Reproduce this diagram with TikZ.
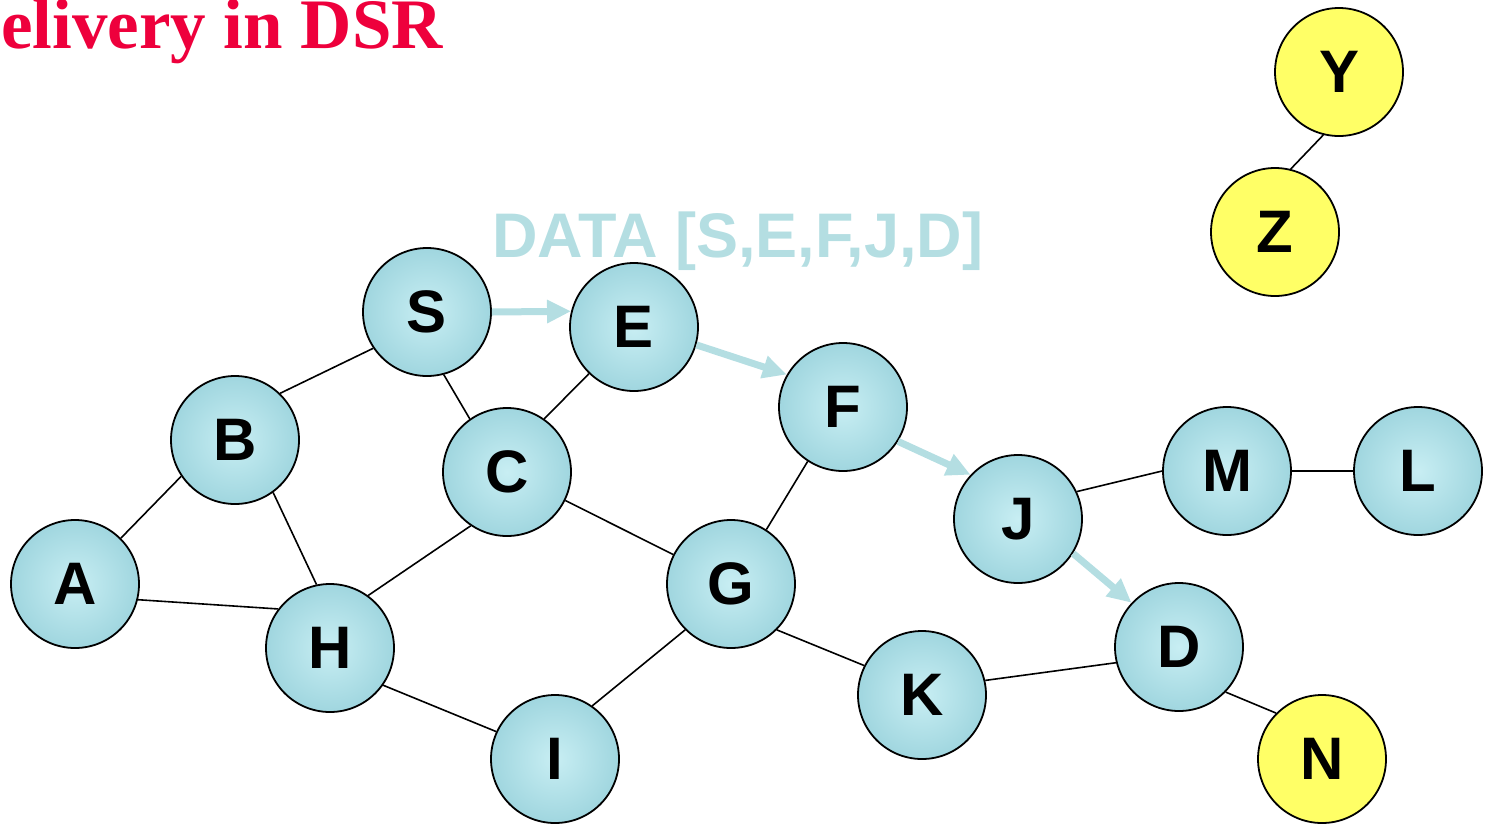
\documentclass[tikz,border=0pt]{standalone}
\usepackage{fontspec}
\setmainfont{Liberation Sans}
\newfontfamily\titlefont{Liberation Serif}
\usetikzlibrary{arrows.meta}
\definecolor{titlered}{RGB}{238,0,60}
\definecolor{routeblue}{RGB}{180,222,226}
\definecolor{dropin}{RGB}{200,238,243}
\definecolor{dropout}{RGB}{160,214,223}
\definecolor{idlefill}{RGB}{255,255,102}
\begin{document}
\begin{tikzpicture}[x=1pt,y=-1pt,
  host/.style={circle,draw=black,line width=1.8pt,minimum size=128pt,inner sep=0pt,
    inner color=dropin,outer color=dropout,
    font=\fontsize{60}{60}\selectfont\bfseries},
  idle/.style={host,fill=idlefill,inner color=idlefill,outer color=idlefill},
  link/.style={line width=1.6pt,black},
  route/.style={line width=7pt,routeblue,-{Triangle[length=24pt,width=22pt]}}]
\useasboundingbox (0,0) rectangle (1490,823);
\clip (0,0) rectangle (1490,823);

% title
\node[anchor=base east,inner sep=0pt,text=titlered,
  font=\titlefont\fontsize{71}{71}\selectfont\bfseries] (title) at (443,48) {elivery in DSR};

% data packet header
\node[anchor=base west,inner sep=0pt,text=routeblue,
  font=\fontsize{63}{63}\selectfont\bfseries] (pkt) at (492,257) {DATA [S,E,F,J,D]};

% hosts
\node[host] (S) at (427,312) {S};
\node[host] (E) at (634,327) {E};
\node[host] (F) at (843,407) {F};
\node[host] (B) at (235,440) {B};
\node[host] (C) at (507,472) {C};
\node[host] (J) at (1018,519) {J};
\node[host] (M) at (1227,471) {M};
\node[host] (L) at (1418,471) {L};
\node[host] (A) at (75,584) {A};
\node[host] (G) at (731,584) {G};
\node[host] (H) at (330,648) {H};
\node[host] (D) at (1179,647) {D};
\node[host] (K) at (922,695) {K};
\node[host] (I) at (555,759) {I};
\node[idle] (N) at (1322,759) {N};
\node[idle] (Y) at (1339,72) {Y};
\node[idle] (Z) at (1275,232) {Z};

% links
\draw[link] (A.45) -- (B.214);
\draw[link] (A.-14) -- (H.143);
\draw[link] (B.-54) -- (H.102);
\draw[link] (B.46) -- (S.214);
\draw[link] (S.-75) -- (C.125);
\draw[link] (C.55) -- (E.226);
\draw[link] (C.236) -- (H.54);
\draw[link] (C.-26) -- (G.153);
\draw[link] (G.57) -- (F.237);
\draw[link] (G.225) -- (I.55);
\draw[link] (G.-45) -- (K.153);
\draw[link] (H.-35) -- (I.155);
\draw[link] (K.13) -- (D.194);
\draw[link] (J.25) -- (M.180);
\draw[link] (M.0) -- (L.180);
\draw[link] (D.-44) -- (N.135);
\draw[link] (Y.256) -- (Z.76);

% route of the data packet
\draw[route] (S.0) -- (E.166);
\draw[route] (E.-16) -- (F.150);
\draw[route] (F.-32) -- (J.137);
\draw[route] (J.-32) -- (D.137);
\end{tikzpicture}
\end{document}
